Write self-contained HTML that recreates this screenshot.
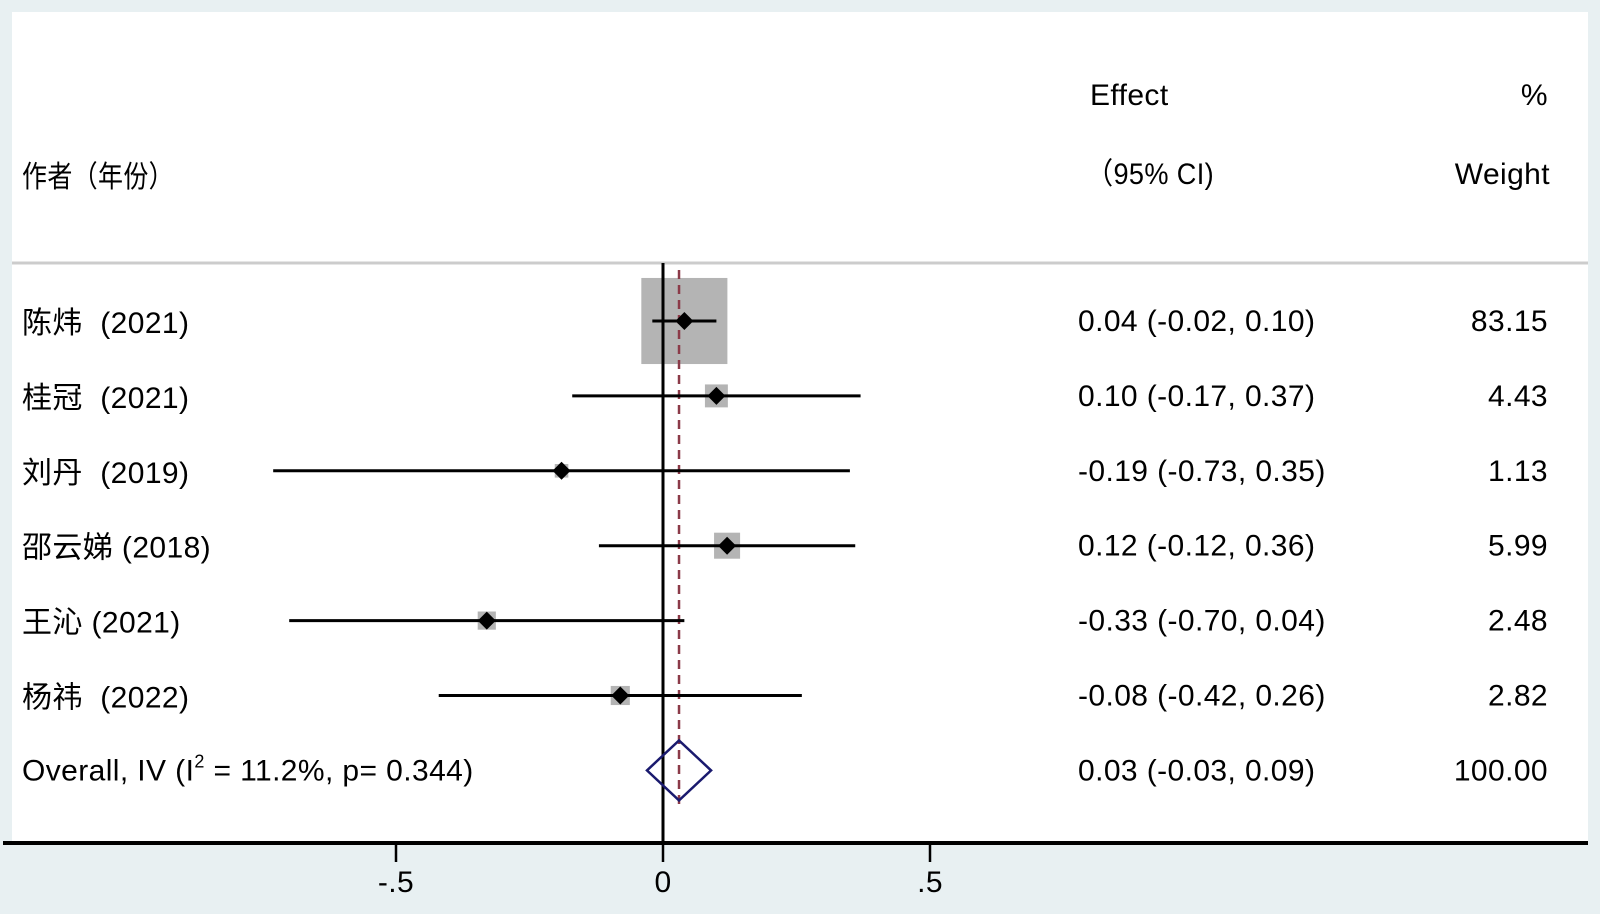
<!DOCTYPE html>
<html><head><meta charset="utf-8"><style>
html,body{margin:0;padding:0;width:1600px;height:914px;background:#e8f0f2;overflow:hidden}
svg{display:block}
text{font-family:"Liberation Sans","Noto Sans CJK SC",sans-serif;font-size:30px;fill:#000;white-space:pre;letter-spacing:0.4px}
</style></head><body>
<svg width="1600" height="914">
<rect x="12" y="12" width="1576" height="831" fill="#fff"/>
<line x1="12" y1="263" x2="1588" y2="263" stroke="#ccc" stroke-width="3"/>
<text x="1090" y="105">Effect</text>
<text x="1086" y="184" textLength="128" lengthAdjust="spacingAndGlyphs">（95% CI)</text>
<text x="1548" y="105" text-anchor="end">%</text>
<text x="1550" y="184" text-anchor="end">Weight</text>
<text x="22" y="187" textLength="152" lengthAdjust="spacingAndGlyphs">作者（年份）</text>
<g id="marks"></g>
<line x1="3" y1="843" x2="1588" y2="843" stroke="#000" stroke-width="4"/>
<g id="ticks"></g>
</svg>
<script>
const studies=["陈炜  (2021)","桂冠  (2021)","刘丹  (2019)","邵云娣 (2018)","王沁 (2021)","杨祎  (2022)"];
const effects=[0.04,0.10,-0.19,0.12,-0.33,-0.08];
const lower=[-0.02,-0.17,-0.73,-0.12,-0.70,-0.42];
const upper=[0.10,0.37,0.35,0.36,0.04,0.26];
const weights=[83.15,4.43,1.13,5.99,2.48,2.82];
const overall=[0.03,-0.03,0.09];
const tickVals=[-0.5,0,0.5];
const tickLabels=["-.5","0",".5"];
const NS="http://www.w3.org/2000/svg";
const X=v=>663+v*534;
const Y=i=>321+i*74.9;
const marks=document.getElementById('marks');
function mk(tag,attrs,parent){const e=document.createElementNS(NS,tag);for(const k in attrs)e.setAttribute(k,attrs[k]);(parent||marks).appendChild(e);return e;}
const f2=v=>v.toFixed(2);
studies.forEach((s,i)=>{
  const side=9.0*Math.sqrt(weights[i])+4;
  const b=mk('rect',{x:X(effects[i])-side/2,y:Y(i)-side/2,width:side,height:side,fill:'#b4b4b4'});
  
  
});
const vl=mk('line',{x1:663,y1:263,x2:663,y2:843,stroke:'#000','stroke-width':3});


const dl=mk('line',{x1:X(overall[0]),y1:270,x2:X(overall[0]),y2:805,stroke:'#8b3a48','stroke-width':2.5,'stroke-dasharray':'9,6'});


studies.forEach((s,i)=>{
  const y=Y(i);
  const l=mk('line',{x1:X(lower[i]),y1:y,x2:X(upper[i]),y2:y,stroke:'#000','stroke-width':3});
  
  
  const x=X(effects[i]);
  const d=mk('polygon',{points:`${x},${y-9} ${x+9},${y} ${x},${y+9} ${x-9},${y}`,fill:'#000'});
  
  
  const t=mk('text',{x:22,y:y+12});t.textContent=s;
  
  
  const e=mk('text',{x:1078,y:y+10});
  e.textContent=`${f2(effects[i])} (${f2(lower[i])}, ${f2(upper[i])})`;
  
  
  const w=mk('text',{x:1548,y:y+10,'text-anchor':'end'});w.textContent=f2(weights[i]);
  
  
});
const oy=Y(6);
const od=mk('polygon',{points:`${X(overall[1])},${oy} ${X(overall[0])},${oy-30} ${X(overall[2])},${oy} ${X(overall[0])},${oy+30}`,fill:'none',stroke:'#1a1a6e','stroke-width':2.5});


const ot=mk('text',{x:22,y:oy+10});
ot.innerHTML='Overall, IV (I<tspan dy="-13" font-size="18">2</tspan><tspan dy="13"> = 11.2%, p= 0.344)</tspan>';


const oe=mk('text',{x:1078,y:oy+10});oe.textContent=`${f2(overall[0])} (${f2(overall[1])}, ${f2(overall[2])})`;


const ow=mk('text',{x:1548,y:oy+10,'text-anchor':'end'});ow.textContent='100.00';


const tg=document.getElementById('ticks');
tickVals.forEach((v,i)=>{
  const t=mk('line',{x1:X(v),y1:843,x2:X(v),y2:862,stroke:'#000','stroke-width':2.5},tg);
  
  
  const l=mk('text',{x:X(v),y:892,'text-anchor':'middle'},tg);l.textContent=tickLabels[i];
  
  
});
</script>
</body></html>
